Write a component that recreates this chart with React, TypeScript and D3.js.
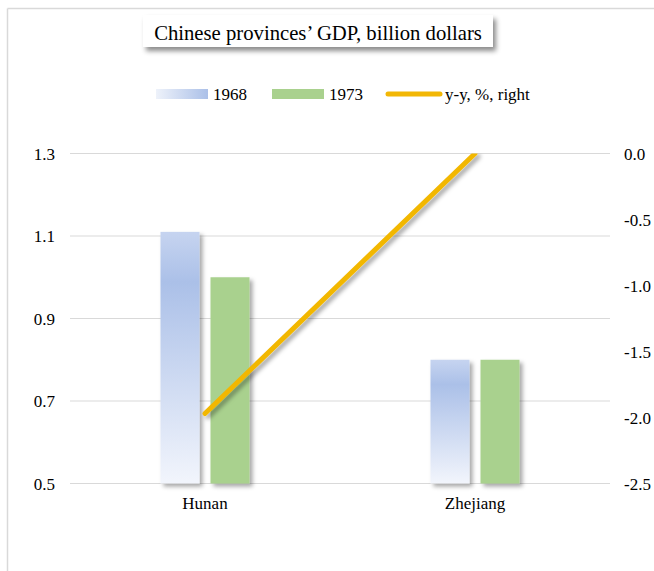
import React from "react";
import * as d3 from "d3";

const categories = ["Hunan", "Zhejiang"];
const series = ["1968", "1973"];
const values1968 = [1.11, 0.8];
const values1973 = [1.0, 0.8];
const yoy = [-1.97, 0.0];
const leftTicks = [0.5, 0.7, 0.9, 1.1, 1.3];
const rightTicks = [-2.5, -2.0, -1.5, -1.0, -0.5, 0.0];

const W = 654;
const H = 571;
const plot = { left: 70, right: 610, top: 153.5, bottom: 483.5 };
const FONT = "'Liberation Serif', 'Times New Roman', serif";
const GREEN = "#a9d18e";
const GOLD = "#f2b705";

export default function App() {
  const x0 = d3.scaleBand<string>().domain(categories).range([plot.left, plot.right]);
  const x1 = d3.scaleBand<string>().domain(series).range([-44.5, 44.5]).paddingInner(0.22);
  const yL = d3.scaleLinear().domain([0.5, 1.3]).range([plot.bottom, plot.top]);
  const yR = d3.scaleLinear().domain([-2.5, 0]).range([plot.bottom, plot.top]);
  const cx = (c: string) => (x0(c) ?? 0) + x0.bandwidth() / 2;

  const line = d3
    .line<number>()
    .x((_, i) => cx(categories[i]))
    .y((d) => yR(d));

  const seriesVals: Record<string, number[]> = { "1968": values1968, "1973": values1973 };

  return (
    <svg
      width={W}
      height={H}
      style={{ position: "absolute", left: 0, top: 0, display: "block" }}
    >
      <defs>
        <linearGradient id="blueV" x1="0" y1="0" x2="0" y2="1">
          <stop offset="0" stopColor="#c6d4f0" />
          <stop offset="0.2" stopColor="#abc0e8" />
          <stop offset="1" stopColor="#f2f5fc" />
        </linearGradient>
        <linearGradient id="blueH" x1="0" y1="0" x2="1" y2="0">
          <stop offset="0" stopColor="#eef2fa" />
          <stop offset="1" stopColor="#abc0e8" />
        </linearGradient>
        <filter id="shadow" x="-30%" y="-30%" width="160%" height="160%">
          <feDropShadow dx="3" dy="3" stdDeviation="2.2" floodColor="#000" floodOpacity="0.35" />
        </filter>
        <filter id="boxShadow" x="-10%" y="-40%" width="120%" height="200%">
          <feDropShadow dx="3" dy="4" stdDeviation="2.5" floodColor="#000" floodOpacity="0.45" />
        </filter>
        <clipPath id="plotClip">
          <rect x={plot.left - 20} y={plot.top} width={plot.right - plot.left + 40} height={plot.bottom - plot.top + 20} />
        </clipPath>
      </defs>

      <rect x={0} y={0} width={W} height={H} fill="#fff" />
      {/* chart border (left & top visible) */}
      <line x1={7.5} y1={8.5} x2={7.5} y2={H} stroke="#d9d9d9" strokeWidth={1.5} />
      <line x1={7.5} y1={8.5} x2={W} y2={8.5} stroke="#d9d9d9" strokeWidth={1.5} />

      {/* title */}
      <rect x={143} y={15} width={350} height={32} fill="#fff" filter="url(#boxShadow)" />
      <text x={318} y={39.5} textAnchor="middle" fontFamily={FONT} fontSize={20.7} fill="#000">
        Chinese provinces’ GDP, billion dollars
      </text>

      {/* legend */}
      <rect x={156} y={89} width={52} height={10} fill="url(#blueH)" />
      <text x={213} y={100} fontFamily={FONT} fontSize={17} fill="#000">1968</text>
      <rect x={272} y={89} width={52} height={10} fill={GREEN} />
      <text x={329} y={100} fontFamily={FONT} fontSize={17} fill="#000">1973</text>
      <line x1={388} y1={94} x2={440} y2={94} stroke={GOLD} strokeWidth={5} strokeLinecap="round" />
      <text x={445} y={100} fontFamily={FONT} fontSize={17} fill="#000">y-y, %, right</text>

      {/* gridlines */}
      {leftTicks.map((t) => (
        <line key={t} x1={plot.left} x2={plot.right} y1={yL(t)} y2={yL(t)} stroke="#d9d9d9" strokeWidth={1} />
      ))}

      {/* left ticks */}
      {leftTicks.map((t) => (
        <text key={t} x={55} y={yL(t) + 6} textAnchor="end" fontFamily={FONT} fontSize={17} fill="#000">
          {d3.format(".1f")(t)}
        </text>
      ))}
      {/* right ticks */}
      {rightTicks.map((t) => (
        <text key={t} x={624} y={yR(t) + 6} textAnchor="start" fontFamily={FONT} fontSize={17} fill="#000">
          {d3.format(".1f")(t).replace("−", "-")}
        </text>
      ))}

      {/* bars */}
      {categories.map((c, i) => (
        <g key={c}>
          {series.map((s) => {
            const v = seriesVals[s][i];
            const x = cx(c) + (x1(s) ?? 0);
            return (
              <rect
                key={s}
                x={x}
                y={yL(v)}
                width={x1.bandwidth()}
                height={yL(0.5) - yL(v)}
                fill={s === "1968" ? "url(#blueV)" : GREEN}
                filter="url(#shadow)"
              />
            );
          })}
        </g>
      ))}

      {/* line */}
      <g clipPath="url(#plotClip)">
        <path
          d={line(yoy) ?? ""}
          fill="none"
          stroke={GOLD}
          strokeWidth={5}
          strokeLinecap="round"
          filter="url(#shadow)"
        />
      </g>

      {/* category labels */}
      {categories.map((c) => (
        <text key={c} x={cx(c)} y={509} textAnchor="middle" fontFamily={FONT} fontSize={17} fill="#000">
          {c}
        </text>
      ))}
    </svg>
  );
}
